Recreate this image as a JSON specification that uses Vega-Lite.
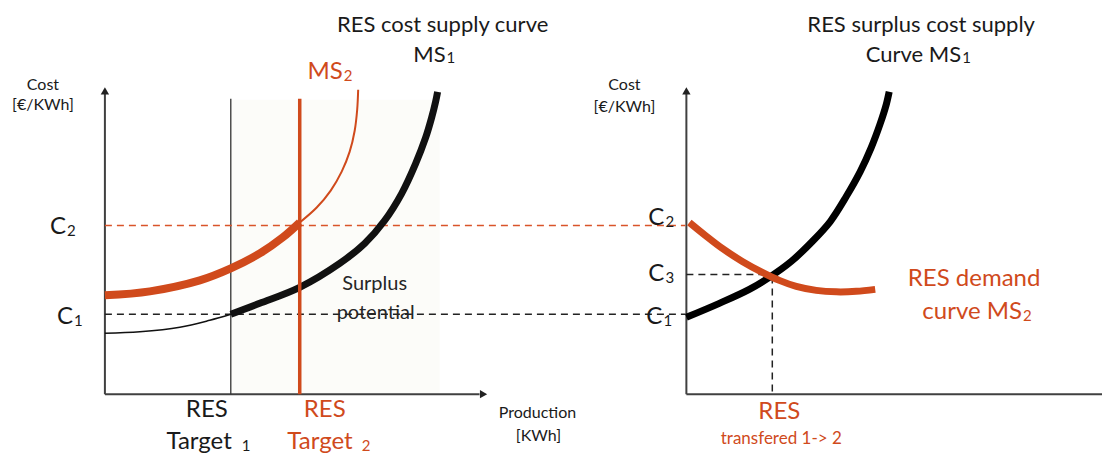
{
  "$schema": "https://vega.github.io/schema/vega-lite/v6.json",
  "width": 1103,
  "height": 454,
  "autosize": {"type": "fit", "contains": "padding"},
  "padding": 0,
  "config": {"view": {"stroke": null}, "text": {"font": "Lato"}},
  "datasets": {
    "curves": [
      {"id": "s1thin", "x": 105, "y": 334}, {"id": "s1thin", "x": 140, "y": 332.5}, {"id": "s1thin", "x": 180, "y": 328}, {"id": "s1thin", "x": 210, "y": 321}, {"id": "s1thin", "x": 231, "y": 315},
      {"id": "s1thick", "x": 231, "y": 315}, {"id": "s1thick", "x": 260, "y": 304}, {"id": "s1thick", "x": 300, "y": 288}, {"id": "s1thick", "x": 340, "y": 264}, {"id": "s1thick", "x": 365, "y": 244}, {"id": "s1thick", "x": 385, "y": 221}, {"id": "s1thick", "x": 402, "y": 194}, {"id": "s1thick", "x": 416, "y": 164}, {"id": "s1thick", "x": 426, "y": 138}, {"id": "s1thick", "x": 432, "y": 118}, {"id": "s1thick", "x": 436, "y": 102}, {"id": "s1thick", "x": 438, "y": 92},
      {"id": "d2thick", "x": 105, "y": 296}, {"id": "d2thick", "x": 150, "y": 292}, {"id": "d2thick", "x": 200, "y": 281}, {"id": "d2thick", "x": 231, "y": 269}, {"id": "d2thick", "x": 260, "y": 254}, {"id": "d2thick", "x": 283, "y": 238}, {"id": "d2thick", "x": 300, "y": 223},
      {"id": "d2thin", "x": 300, "y": 223}, {"id": "d2thin", "x": 317, "y": 208}, {"id": "d2thin", "x": 331, "y": 191}, {"id": "d2thin", "x": 342, "y": 172}, {"id": "d2thin", "x": 350, "y": 152}, {"id": "d2thin", "x": 355, "y": 131}, {"id": "d2thin", "x": 357.5, "y": 110}, {"id": "d2thin", "x": 358.5, "y": 90},
      {"id": "rblack", "x": 687, "y": 318}, {"id": "rblack", "x": 720, "y": 304}, {"id": "rblack", "x": 750, "y": 290}, {"id": "rblack", "x": 770, "y": 278}, {"id": "rblack", "x": 792, "y": 262}, {"id": "rblack", "x": 813, "y": 242}, {"id": "rblack", "x": 831, "y": 222}, {"id": "rblack", "x": 847, "y": 197}, {"id": "rblack", "x": 861, "y": 172}, {"id": "rblack", "x": 872, "y": 148}, {"id": "rblack", "x": 881, "y": 124}, {"id": "rblack", "x": 887, "y": 105}, {"id": "rblack", "x": 890, "y": 92},
      {"id": "rorange", "x": 690, "y": 223}, {"id": "rorange", "x": 706, "y": 236}, {"id": "rorange", "x": 723, "y": 249}, {"id": "rorange", "x": 743, "y": 262}, {"id": "rorange", "x": 763, "y": 273}, {"id": "rorange", "x": 780, "y": 281}, {"id": "rorange", "x": 797, "y": 287}, {"id": "rorange", "x": 817, "y": 291}, {"id": "rorange", "x": 837, "y": 292.5}, {"id": "rorange", "x": 857, "y": 292}, {"id": "rorange", "x": 876, "y": 290}
    ],
    "vrules": [
      {"id": "axis", "x": 105, "y": 395, "y2": 92},
      {"id": "axis", "x": 687, "y": 395, "y2": 92},
      {"id": "target1", "x": 231, "y": 395, "y2": 99},
      {"id": "target2", "x": 300, "y": 395, "y2": 99},
      {"id": "dash", "x": 773, "y": 277, "y2": 395}
    ],
    "hrules": [
      {"id": "axis", "x": 105, "x2": 480, "y": 395},
      {"id": "axis", "x": 687, "x2": 1103, "y": 395},
      {"id": "c2", "x": 105, "x2": 686, "y": 226},
      {"id": "dash", "x": 105, "x2": 686, "y": 315},
      {"id": "dash", "x": 687, "x2": 771, "y": 275}
    ],
    "arrows": [
      {"dir": "up", "x": 105, "y": 91},
      {"dir": "up", "x": 687, "y": 91},
      {"dir": "right", "x": 484, "y": 395}
    ],
    "labels": [
      {"g": "tc", "x": 443, "y": 25, "text": "RES cost supply curve"},
      {"g": "tr", "x": 446, "y": 55, "text": "MS"},
      {"g": "ks", "x": 447, "y": 58, "text": "1"},
      {"g": "tc", "x": 922, "y": 25, "text": "RES surplus cost supply"},
      {"g": "tr", "x": 962, "y": 55, "text": "Curve MS"},
      {"g": "ks", "x": 963, "y": 58, "text": "1"},
      {"g": "kr", "x": 66, "y": 228, "text": "C"},
      {"g": "ks", "x": 67, "y": 232, "text": "2"},
      {"g": "kr", "x": 73, "y": 318, "text": "C"},
      {"g": "ks", "x": 74, "y": 322, "text": "1"},
      {"g": "kr", "x": 665, "y": 218, "text": "C"},
      {"g": "ks", "x": 666, "y": 222, "text": "2"},
      {"g": "kr", "x": 665, "y": 275, "text": "C"},
      {"g": "ks", "x": 666, "y": 279, "text": "3"},
      {"g": "kr", "x": 663, "y": 318, "text": "C"},
      {"g": "ks", "x": 664, "y": 322, "text": "1"},
      {"g": "kc", "x": 207, "y": 411, "text": "RES"},
      {"g": "kr", "x": 232, "y": 443, "text": "Target"},
      {"g": "ks", "x": 242, "y": 447, "text": "1"},
      {"g": "or", "x": 343, "y": 72, "text": "MS"},
      {"g": "os", "x": 344, "y": 76, "text": "2"},
      {"g": "oc", "x": 325, "y": 411, "text": "RES"},
      {"g": "or", "x": 353, "y": 443, "text": "Target"},
      {"g": "os", "x": 362, "y": 447, "text": "2"},
      {"g": "oc", "x": 975, "y": 280, "text": "RES demand"},
      {"g": "or", "x": 1023, "y": 313, "text": "curve MS"},
      {"g": "os", "x": 1024, "y": 317, "text": "2"},
      {"g": "oc", "x": 780, "y": 413, "text": "RES"},
      {"g": "osm", "x": 782, "y": 440, "text": "transfered 1-> 2"},
      {"g": "sm", "x": 43, "y": 85, "text": "Cost"},
      {"g": "sm", "x": 43, "y": 105, "text": "[€/KWh]"},
      {"g": "sm", "x": 625, "y": 85, "text": "Cost"},
      {"g": "sm", "x": 625, "y": 107, "text": "[€/KWh]"},
      {"g": "sm", "x": 538, "y": 414, "text": "Production"},
      {"g": "sm", "x": 539, "y": 437, "text": "[KWh]"},
      {"g": "sp", "x": 375, "y": 285, "text": "Surplus"},
      {"g": "sp", "x": 376, "y": 314, "text": "potential"}
    ]
  },
  "encoding": {
    "x": {"field": "x", "type": "quantitative", "scale": {"domain": [0, 1103], "nice": false, "zero": false}, "axis": null},
    "y": {"field": "y", "type": "quantitative", "scale": {"domain": [0, 454], "nice": false, "zero": false, "reverse": true}, "axis": null}
  },
  "layer": [
    {
      "data": {"values": [{"x": 231, "x2": 440, "y": 100, "y2": 395}]},
      "mark": {"type": "rect", "color": "#fcfcf9"},
      "encoding": {"x2": {"field": "x2"}, "y2": {"field": "y2"}}
    },
    {
      "data": {"name": "vrules"}, "transform": [{"filter": "datum.id == 'axis'"}],
      "mark": {"type": "rule", "color": "#404040", "strokeWidth": 2},
      "encoding": {"y2": {"field": "y2"}}
    },
    {
      "data": {"name": "hrules"}, "transform": [{"filter": "datum.id == 'axis'"}],
      "mark": {"type": "rule", "color": "#404040", "strokeWidth": 2},
      "encoding": {"x2": {"field": "x2"}}
    },
    {
      "data": {"name": "vrules"}, "transform": [{"filter": "datum.id == 'target1'"}],
      "mark": {"type": "rule", "color": "#333333", "strokeWidth": 1.3},
      "encoding": {"y2": {"field": "y2"}}
    },
    {
      "data": {"name": "hrules"}, "transform": [{"filter": "datum.id == 'c2'"}],
      "mark": {"type": "rule", "color": "#d9542a", "strokeWidth": 1.3, "strokeDash": [7, 5]},
      "encoding": {"x2": {"field": "x2"}}
    },
    {
      "data": {"name": "hrules"}, "transform": [{"filter": "datum.id == 'dash'"}],
      "mark": {"type": "rule", "color": "#222222", "strokeWidth": 1.5, "strokeDash": [7, 5]},
      "encoding": {"x2": {"field": "x2"}}
    },
    {
      "data": {"name": "vrules"}, "transform": [{"filter": "datum.id == 'dash'"}],
      "mark": {"type": "rule", "color": "#222222", "strokeWidth": 1.5, "strokeDash": [7, 5]},
      "encoding": {"y2": {"field": "y2"}}
    },
    {
      "data": {"name": "curves"}, "transform": [{"filter": "datum.id == 's1thin'"}],
      "mark": {"type": "line", "color": "#111111", "strokeWidth": 1.5, "interpolate": "catmull-rom"}
    },
    {
      "data": {"name": "curves"}, "transform": [{"filter": "datum.id == 's1thick'"}],
      "mark": {"type": "line", "color": "#111111", "strokeWidth": 7, "interpolate": "catmull-rom"}
    },
    {
      "data": {"name": "curves"}, "transform": [{"filter": "datum.id == 'd2thin'"}],
      "mark": {"type": "line", "color": "#d04a1c", "strokeWidth": 2, "interpolate": "catmull-rom"}
    },
    {
      "data": {"name": "curves"}, "transform": [{"filter": "datum.id == 'd2thick'"}],
      "mark": {"type": "line", "color": "#d04a1c", "strokeWidth": 8, "interpolate": "catmull-rom"}
    },
    {
      "data": {"name": "vrules"}, "transform": [{"filter": "datum.id == 'target2'"}],
      "mark": {"type": "rule", "color": "#d04a1c", "strokeWidth": 3.5},
      "encoding": {"y2": {"field": "y2"}}
    },
    {
      "data": {"name": "curves"}, "transform": [{"filter": "datum.id == 'rblack'"}],
      "mark": {"type": "line", "color": "#000000", "strokeWidth": 7, "interpolate": "catmull-rom"}
    },
    {
      "data": {"name": "curves"}, "transform": [{"filter": "datum.id == 'rorange'"}],
      "mark": {"type": "line", "color": "#d04a1c", "strokeWidth": 7, "interpolate": "catmull-rom"}
    },
    {
      "data": {"name": "arrows"}, "transform": [{"filter": "datum.dir == 'up'"}],
      "mark": {"type": "point", "shape": "triangle-up", "filled": true, "color": "#222222", "size": 70, "opacity": 1}
    },
    {
      "data": {"name": "arrows"}, "transform": [{"filter": "datum.dir == 'right'"}],
      "mark": {"type": "point", "shape": "triangle-right", "filled": true, "color": "#222222", "size": 70, "opacity": 1}
    },
    {
      "data": {"name": "labels"}, "transform": [{"filter": "datum.g == 'tc'"}],
      "mark": {"type": "text", "fontSize": 22, "color": "#1a1a1a", "baseline": "middle", "align": "center"},
      "encoding": {"text": {"field": "text"}}
    },
    {
      "data": {"name": "labels"}, "transform": [{"filter": "datum.g == 'tr'"}],
      "mark": {"type": "text", "fontSize": 22, "color": "#1a1a1a", "baseline": "middle", "align": "right"},
      "encoding": {"text": {"field": "text"}}
    },
    {
      "data": {"name": "labels"}, "transform": [{"filter": "datum.g == 'kc'"}],
      "mark": {"type": "text", "fontSize": 24, "color": "#1a1a1a", "baseline": "middle", "align": "center"},
      "encoding": {"text": {"field": "text"}}
    },
    {
      "data": {"name": "labels"}, "transform": [{"filter": "datum.g == 'kr'"}],
      "mark": {"type": "text", "fontSize": 24, "color": "#1a1a1a", "baseline": "middle", "align": "right"},
      "encoding": {"text": {"field": "text"}}
    },
    {
      "data": {"name": "labels"}, "transform": [{"filter": "datum.g == 'ks'"}],
      "mark": {"type": "text", "fontSize": 15, "color": "#1a1a1a", "baseline": "middle", "align": "left"},
      "encoding": {"text": {"field": "text"}}
    },
    {
      "data": {"name": "labels"}, "transform": [{"filter": "datum.g == 'sm'"}],
      "mark": {"type": "text", "fontSize": 16, "color": "#1a1a1a", "baseline": "middle", "align": "center"},
      "encoding": {"text": {"field": "text"}}
    },
    {
      "data": {"name": "labels"}, "transform": [{"filter": "datum.g == 'sp'"}],
      "mark": {"type": "text", "fontSize": 20, "color": "#262626", "baseline": "middle", "align": "center"},
      "encoding": {"text": {"field": "text"}}
    },
    {
      "data": {"name": "labels"}, "transform": [{"filter": "datum.g == 'oc'"}],
      "mark": {"type": "text", "fontSize": 24, "color": "#d04a1c", "baseline": "middle", "align": "center"},
      "encoding": {"text": {"field": "text"}}
    },
    {
      "data": {"name": "labels"}, "transform": [{"filter": "datum.g == 'or'"}],
      "mark": {"type": "text", "fontSize": 24, "color": "#d04a1c", "baseline": "middle", "align": "right"},
      "encoding": {"text": {"field": "text"}}
    },
    {
      "data": {"name": "labels"}, "transform": [{"filter": "datum.g == 'os'"}],
      "mark": {"type": "text", "fontSize": 15, "color": "#d04a1c", "baseline": "middle", "align": "left"},
      "encoding": {"text": {"field": "text"}}
    },
    {
      "data": {"name": "labels"}, "transform": [{"filter": "datum.g == 'osm'"}],
      "mark": {"type": "text", "fontSize": 17, "color": "#d04a1c", "baseline": "middle", "align": "center"},
      "encoding": {"text": {"field": "text"}}
    }
  ]
}
